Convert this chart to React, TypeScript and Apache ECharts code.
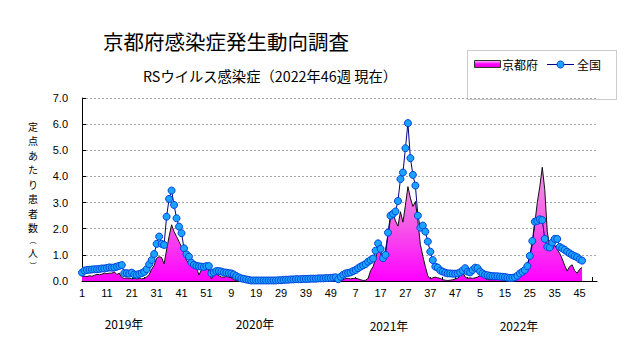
import React, { useEffect, useRef } from 'react';
import * as echarts from 'echarts';

// ---- data ----
const yearLabels = ['2019年', '2020年', '2021年', '2022年'];
const weekNumbers = Array.from({ length: 52 }, (_, i) => String(i + 1));
const categories: string[] = [...weekNumbers, ...weekNumbers, ...weekNumbers, ...weekNumbers];
const yTicks = [0, 1, 2, 3, 4, 5, 6, 7];
const yAxisTitle = ['定', '点', 'あ', 'た', 'り', '患', '者', '数', '︵', '人', '︶'];

const kyoto2019 = [0.17, 0.18, 0.17, 0.20, 0.18, 0.22, 0.25, 0.24, 0.26, 0.30, 0.28, 0.30, 0.30, 0.35, 0.25, 0.30, 0.13, 0.10, 0.12, 0.10, 0.08, 0.10, 0.08, 0.10, 0.08, 0.10, 0.15, 0.25, 0.45, 0.60, 0.87, 0.93, 0.90, 0.65, 1.19, 1.70, 2.15, 1.89, 1.70, 1.51, 1.30, 1.05, 0.80, 0.65, 0.58, 0.55, 0.51, 0.23, 0.42, 0.48, 0.45, 0.42];
const kyoto2020 = [0.08, 0.25, 0.28, 0.20, 0.15, 0.15, 0.17, 0.15, 0.12, 0.05, 0.02, 0, 0, 0, 0, 0, 0, 0, 0, 0, 0, 0, 0, 0, 0, 0, 0, 0, 0, 0, 0, 0, 0, 0, 0, 0, 0, 0, 0, 0, 0, 0, 0, 0, 0, 0, 0, 0, 0, 0.02, 0.03, 0.02];
const kyoto2021 = [0.02, 0.05, 0.10, 0.10, 0.08, 0.10, 0.10, 0.08, 0.05, 0.02, 0.03, 0.10, 0.40, 0.55, 0.85, 1.25, 1.05, 0.75, 1.20, 1.76, 2.40, 2.59, 2.30, 2.10, 2.65, 2.25, 2.90, 3.61, 3.17, 2.85, 3.04, 2.30, 1.40, 0.95, 0.55, 0.20, 0.08, 0.12, 0.15, 0.12, 0.10, 0.05, 0.03, 0.02, 0.03, 0.05, 0.08, 0.10, 0.20, 0.36, 0.15, 0.10];
const kyoto2022 = [0.12, 0.10, 0.12, 0.15, 0.20, 0.22, 0.10, 0.05, 0.05, 0.05, 0.05, 0.08, 0.05, 0.08, 0.10, 0.08, 0.10, 0.10, 0.08, 0.10, 0.15, 0.29, 0.45, 0.65, 0.95, 1.40, 2.20, 3.00, 3.60, 4.35, 3.50, 1.90, 1.30, 1.20, 1.38, 1.20, 1.06, 0.85, 0.60, 0.38, 0.55, 0.62, 0.40, 0.30, 0.45, 0.52];

const zenkoku2019 = [0.32, 0.40, 0.42, 0.43, 0.44, 0.45, 0.45, 0.46, 0.48, 0.48, 0.50, 0.52, 0.51, 0.52, 0.55, 0.58, 0.61, 0.30, 0.30, 0.28, 0.32, 0.25, 0.24, 0.27, 0.30, 0.35, 0.45, 0.64, 0.80, 1.03, 1.42, 1.70, 1.42, 1.38, 2.46, 3.14, 3.46, 2.91, 2.40, 2.08, 1.83, 1.25, 1.02, 0.93, 0.70, 0.62, 0.58, 0.56, 0.55, 0.54, 0.57, 0.57];
const zenkoku2020 = [0.29, 0.33, 0.38, 0.38, 0.36, 0.33, 0.32, 0.30, 0.29, 0.25, 0.19, 0.14, 0.10, 0.08, 0.06, 0.04, 0.02, 0.02, 0.02, 0.02, 0.02, 0.02, 0.02, 0.02, 0.02, 0.02, 0.02, 0.03, 0.03, 0.04, 0.05, 0.05, 0.06, 0.06, 0.07, 0.07, 0.07, 0.08, 0.08, 0.08, 0.09, 0.09, 0.09, 0.10, 0.10, 0.10, 0.11, 0.11, 0.12, 0.13, 0.14, 0.07];
const zenkoku2021 = [0.16, 0.24, 0.29, 0.31, 0.33, 0.38, 0.42, 0.49, 0.55, 0.60, 0.65, 0.74, 0.80, 0.86, 1.16, 1.44, 1.23, 0.87, 1.00, 1.85, 2.50, 2.57, 2.66, 3.06, 3.90, 4.15, 5.08, 6.04, 4.70, 4.06, 3.65, 2.50, 2.04, 2.12, 1.89, 1.51, 1.12, 0.80, 0.55, 0.51, 0.40, 0.36, 0.32, 0.29, 0.29, 0.28, 0.28, 0.29, 0.33, 0.40, 0.49, 0.36];
const zenkoku2022 = [0.33, 0.42, 0.51, 0.49, 0.36, 0.29, 0.24, 0.22, 0.20, 0.19, 0.18, 0.18, 0.17, 0.16, 0.15, 0.13, 0.12, 0.12, 0.14, 0.20, 0.29, 0.35, 0.42, 0.57, 0.96, 1.53, 2.27, 2.30, 2.36, 2.33, 1.61, 1.31, 1.28, 1.47, 1.61, 1.61, 1.30, 1.25, 1.19, 1.12, 1.06, 1.00, 0.95, 0.91, 0.83, 0.78];

const kyoto: (number | null)[] = [...kyoto2019, ...kyoto2020, ...kyoto2021, ...kyoto2022];
const zenkoku: (number | null)[] = [...zenkoku2019, ...zenkoku2020, ...zenkoku2021, ...zenkoku2022];
while (kyoto.length < categories.length) kyoto.push(null);
while (zenkoku.length < categories.length) zenkoku.push(null);

const FONT = '"Noto Sans CJK JP", sans-serif';
const NARROW = '"Liberation Sans Narrow", "Liberation Sans", sans-serif';

export default function App() {
  const ref = useRef<HTMLDivElement>(null);
  useEffect(() => {
    if (!ref.current) return;
    const chart = echarts.init(ref.current, undefined, { renderer: 'svg' });
    const areaGrad = new echarts.graphic.LinearGradient(0, 160, 0, 281, [
      { offset: 0, color: '#F29BEA' },
      { offset: 0.5, color: '#F55FE6' },
      { offset: 1, color: '#FF00FF' },
    ], true);
    const swatchGrad = new echarts.graphic.LinearGradient(0, 0, 0, 1, [
      { offset: 0, color: '#FAD0F4' },
      { offset: 0.5, color: '#FF00FF' },
      { offset: 1, color: '#E000D8' },
    ]);
    const yearX = [124, 255, 389, 519];
    const yearY = [323, 323, 325, 325];
    const titleY = [126, 140.5, 155, 169.5, 184, 198.5, 213, 227.5, 240, 252.5, 265];
    chart.setOption({
      animation: false,
      backgroundColor: '#fff',
      grid: { left: 82, right: 34, top: 98, bottom: 66 },
      xAxis: {
        type: 'category',
        data: categories,
        boundaryGap: false,
        axisLine: { lineStyle: { color: '#000', width: 1 } },
        axisTick: { inside: true, length: 4, interval: (i: number) => i % 5 === 0, lineStyle: { color: '#000' } },
        axisLabel: { interval: (i: number) => i % 10 === 0, color: '#000', fontSize: 11, fontFamily: NARROW, margin: 6 },
        splitLine: { show: false },
      },
      yAxis: {
        type: 'value',
        min: yTicks[0],
        max: yTicks[yTicks.length - 1],
        interval: 1,
        axisLine: { show: true, lineStyle: { color: '#000', width: 1 } },
        axisTick: { show: true, inside: true, length: 4, lineStyle: { color: '#000' } },
        axisLabel: { formatter: (v: number) => v.toFixed(1), color: '#000', fontSize: 11, fontFamily: NARROW, margin: 14 },
        splitLine: { show: true, lineStyle: { color: '#A8A8A8', type: [2, 2], width: 1 } },
      },
      series: [
        {
          name: '京都府',
          type: 'line',
          data: kyoto,
          showSymbol: false,
          symbol: 'none',
          lineStyle: { color: '#111', width: 1 },
          areaStyle: { color: areaGrad, opacity: 1 },
          z: 2,
        },
        {
          name: '全国',
          type: 'line',
          data: zenkoku,
          symbol: 'circle',
          symbolSize: 7,
          showSymbol: true,
          showAllSymbol: true,
          lineStyle: { color: '#000080', width: 1 },
          itemStyle: { color: '#1AA3FF', borderColor: '#0044DD', borderWidth: 1 },
          z: 3,
        },
      ],
      graphic: [
        { type: 'text', left: 103, top: 31, style: { text: '京都府感染症発生動向調査', fontSize: 20.5, fontFamily: FONT, fill: '#000' } },
        { type: 'text', left: 143, top: 68, style: { text: 'RSウイルス感染症（2022年46週 現在）', fontSize: 14.3, fontFamily: FONT, fill: '#000' } },
        { type: 'rect', shape: { x: 467.5, y: 50.5, width: 149, height: 49 }, style: { fill: '#fff', stroke: '#999', lineWidth: 1, lineDash: [1, 1] } },
        { type: 'rect', shape: { x: 474.5, y: 60.5, width: 26, height: 7 }, style: { fill: swatchGrad, stroke: '#333', lineWidth: 1 } },
        { type: 'text', x: 502, y: 64, style: { text: '京都府', fontSize: 12, fontFamily: FONT, fill: '#000', verticalAlign: 'middle' } },
        { type: 'line', shape: { x1: 547, y1: 64.5, x2: 574, y2: 64.5 }, style: { stroke: '#000080', lineWidth: 1 } },
        { type: 'circle', shape: { cx: 560.5, cy: 64.5, r: 3.5 }, style: { fill: '#1AA3FF', stroke: '#0044DD', lineWidth: 1 } },
        { type: 'text', x: 577, y: 64, style: { text: '全国', fontSize: 12, fontFamily: FONT, fill: '#000', verticalAlign: 'middle' } },
        ...yAxisTitle.map((ch, k) => ({
          type: 'text', x: 33, y: titleY[k],
          style: { text: ch, fontSize: k === 8 || k === 10 ? 7 : 10, fontFamily: FONT, fill: '#000', align: 'center', verticalAlign: 'middle' },
        })),
        ...yearLabels.map((t, k) => ({
          type: 'text', x: yearX[k], y: yearY[k],
          style: { text: t, fontSize: 12, fontFamily: FONT, fill: '#000', align: 'center', verticalAlign: 'middle' },
        })),
      ],
    });
    return () => chart.dispose();
  }, []);
  return <div ref={ref} style={{ position: 'absolute', left: 0, top: 0, width: 631, height: 347, background: '#fff' }} />;
}
